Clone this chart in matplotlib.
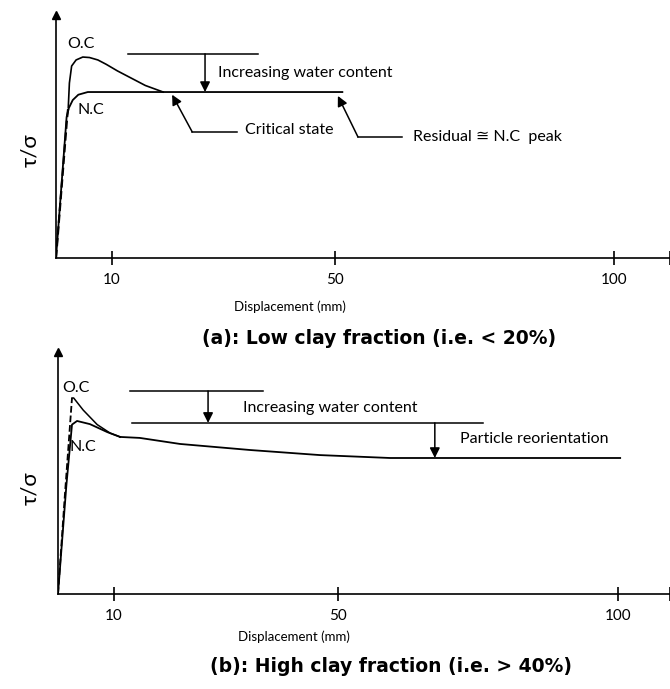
import matplotlib
matplotlib.use("Agg")
from matplotlib import pyplot as plt

plt.rcParams['font.family'] = ['Lato', 'DejaVu Sans']

# ---- panel (a): low clay fraction ----
oc_a_rise_x = [0, 2.0, 2.2]
oc_a_rise_y = [0, 0.58, 0.62]
oc_a_x = [2.2, 2.4, 2.8, 3.6, 4.8, 6.0, 7.5, 9.0, 11.0, 13.5, 16.0, 19.2]
oc_a_y = [0.62, 0.72, 0.79, 0.815, 0.827, 0.825, 0.815, 0.797, 0.77, 0.74, 0.71, 0.683]
nc_a_x = [0, 1.9, 2.3, 3.0, 4.0, 5.7, 51.3]
nc_a_y = [0, 0.58, 0.617, 0.65, 0.672, 0.683, 0.683]

# ---- panel (b): high clay fraction ----
oc_b_rise_x = [0, 1.2, 2.5]
oc_b_rise_y = [0, 0.40, 0.81]
oc_b_x = [2.5, 2.8, 4.5, 7.0, 9.3, 11.1]
oc_b_y = [0.81, 0.81, 0.76, 0.70, 0.665, 0.649]
nc_b_x = [0, 1.5, 2.5, 3.4, 5.7, 8.8, 11.1]
nc_b_y = [0, 0.45, 0.70, 0.715, 0.702, 0.669, 0.649]
res_b_x = [11.1, 14.6, 21.8, 34.3, 46.8, 59.3, 100.4]
res_b_y = [0.649, 0.645, 0.62, 0.595, 0.574, 0.562, 0.562]

tick_pos = [10, 50, 100]
tick_labels = ['10', '50', '100']

W, H = 670, 689
fig = plt.figure(figsize=(6.7, 6.89), dpi=100)
FS = 11.5


def make_axes(left, top, bottom, xmax):
    ax = fig.add_axes([left / W, 1 - bottom / H, (W - left) / W, (bottom - top) / H])
    ax.set_xlim(0, xmax)
    ax.set_ylim(0, 1)
    ax.spines['top'].set_visible(False)
    ax.spines['right'].set_visible(False)
    ax.spines['left'].set_linewidth(1.2)
    ax.spines['bottom'].set_linewidth(1.2)
    ax.set_xticks(tick_pos + [xmax])
    ax.set_xticklabels(tick_labels + [''])
    ax.tick_params(axis='x', direction='inout', length=10, width=1.2, pad=6, labelsize=11)
    ax.set_yticks([])
    ax.plot(0, 1, marker='^', color='k', markersize=6, transform=ax.transAxes, clip_on=False)
    return ax


def arrow(ax, x0, y0, x1, y1):
    ax.annotate('', xy=(x1, y1), xytext=(x0, y0),
                arrowprops=dict(arrowstyle='-|>,head_length=0.6,head_width=0.3',
                                color='k', lw=1.1, shrinkA=0, shrinkB=0))


# (a)
ax1 = make_axes(56, 15, 258, 110)
ax1.plot(oc_a_rise_x, oc_a_rise_y, 'k--', lw=1.6)
ax1.plot(oc_a_x, oc_a_y, 'k-', lw=1.2)
ax1.plot(nc_a_x, nc_a_y, 'k-', lw=1.3)
ax1.text(2.0, 0.88, 'O.C', fontsize=FS, va='center')
ax1.text(3.8, 0.61, 'N.C', fontsize=FS, va='center')
ax1.plot([12.9, 36.2], [0.84, 0.84], 'k-', lw=1.1)
arrow(ax1, 26.7, 0.84, 26.7, 0.683)
ax1.text(29.0, 0.761, 'Increasing water content', fontsize=FS, va='center')
ax1.plot([32.4, 24.4], [0.519, 0.519], 'k-', lw=1.1)
arrow(ax1, 24.4, 0.519, 20.8, 0.672)
ax1.text(33.9, 0.527, 'Critical state', fontsize=FS, va='center')
ax1.plot([62.0, 54.1], [0.498, 0.498], 'k-', lw=1.1)
arrow(ax1, 54.1, 0.498, 50.5, 0.667)
ax1.text(64.0, 0.498, 'Residual \u2245 N.C  peak', fontsize=FS, va='center')

# (b)
ax2 = make_axes(58, 352, 594, 109.3)
ax2.plot(oc_b_rise_x, oc_b_rise_y, 'k--', lw=1.3)
ax2.plot(oc_b_x, oc_b_y, 'k-', lw=1.1)
ax2.plot(nc_b_x, nc_b_y, 'k-', lw=1.3)
ax2.plot(res_b_x, res_b_y, 'k-', lw=1.3)
ax2.text(0.7, 0.85, 'O.C', fontsize=FS, va='center')
ax2.text(2.1, 0.607, 'N.C', fontsize=FS, va='center')
ax2.plot([12.9, 36.6], [0.839, 0.839], 'k-', lw=1.1)
arrow(ax2, 26.8, 0.839, 26.8, 0.707)
ax2.plot([13.2, 75.9], [0.707, 0.707], 'k-', lw=1.1)
ax2.text(33.0, 0.769, 'Increasing water content', fontsize=FS, va='center')
arrow(ax2, 67.3, 0.707, 67.3, 0.562)
ax2.text(71.8, 0.64, 'Particle reorientation', fontsize=FS, va='center')

# labels
fig.text(30 / W, 1 - 150 / H, '\u03c4/\u03c3', rotation=90, ha='center', va='center', fontsize=16)
fig.text(30 / W, 1 - 488 / H, '\u03c4/\u03c3', rotation=90, ha='center', va='center', fontsize=16)
fig.text(290 / W, 1 - 307 / H, 'Displacement (mm)', ha='center', va='center', fontsize=9.5)
fig.text(294 / W, 1 - 637 / H, 'Displacement (mm)', ha='center', va='center', fontsize=9.5)
fig.text(379 / W, 1 - 338 / H, '(a): Low clay fraction (i.e. < 20%)', ha='center', va='center',
         fontsize=13.5, fontweight='bold', family='DejaVu Sans')
fig.text(391 / W, 1 - 667 / H, '(b): High clay fraction (i.e. > 40%)', ha='center', va='center',
         fontsize=13.5, fontweight='bold', family='DejaVu Sans')

fig.savefig('out.png', dpi=100)
